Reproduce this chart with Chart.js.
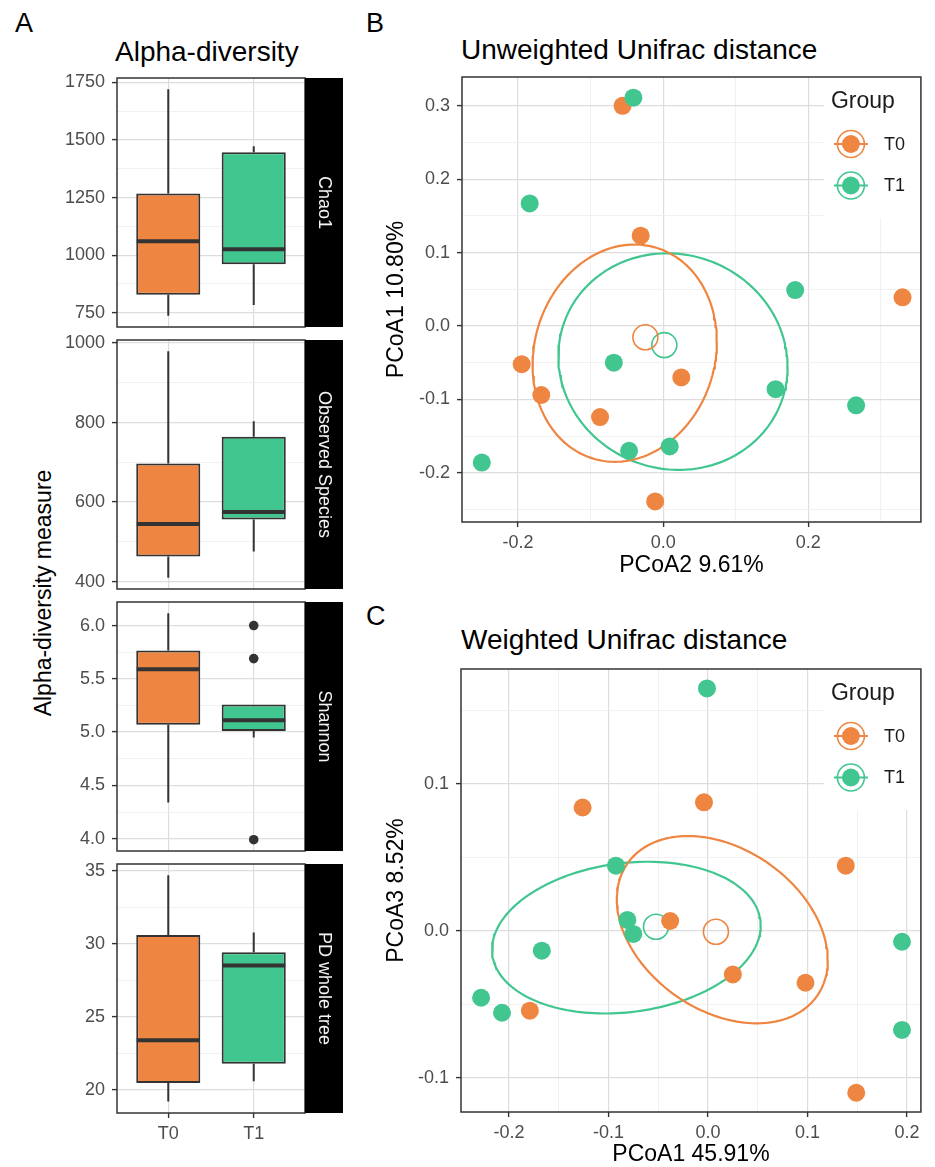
<!DOCTYPE html>
<html>
<head>
<meta charset="utf-8">
<script src="https://cdn.jsdelivr.net/npm/chart.js@4/dist/chart.umd.min.js"></script>
<style>
  html, body { margin:0; padding:0; background:#ffffff; }
  body { position:relative; width:935px; height:1167px; overflow:hidden; font-family:'Liberation Sans', Arial, Helvetica, sans-serif; }
  canvas { position:absolute; }
  .txt { position:absolute; white-space:nowrap; line-height:1; color:#000; }
</style>
</head>
<body>
<div class="txt" style="left:15px; top:10px; font-size:27px;">A</div>
<div class="txt" style="left:115px; top:38px; font-size:28px;">Alpha-diversity</div>
<div class="txt" style="left:366px; top:10px; font-size:27px;">B</div>
<div class="txt" style="left:461px; top:36px; font-size:28px;">Unweighted Unifrac distance</div>
<div class="txt" style="left:366px; top:603px; font-size:27px;">C</div>
<div class="txt" style="left:461px; top:626px; font-size:28px;">Weighted Unifrac distance</div>
<div class="txt" style="left:43px; top:593px; font-size:23px; transform:translate(-50%,-50%) rotate(-90deg);">Alpha-diversity measure</div>

<canvas id="f1" width="345" height="309" style="left:0px; top:58px;"></canvas>
<canvas id="f2" width="345" height="309" style="left:0px; top:320px;"></canvas>
<canvas id="f3" width="345" height="309" style="left:0px; top:582px;"></canvas>
<canvas id="f4" width="345" height="309" style="left:0px; top:844px;"></canvas>
<canvas id="pb" width="575" height="535" style="left:360px; top:55px;"></canvas>
<canvas id="pc" width="575" height="522" style="left:360px; top:645px;"></canvas>

<script>
// ---------------- data ----------------
const groups = ['T0', 'T1'];
const groupPositions = [1, 2];
const facetLabels = ['Chao1', 'Observed Species', 'Shannon', 'PD whole tree'];

// box statistics: [lower whisker, Q1, median, Q3, upper whisker]
const chao1T0 = [737, 828, 1060, 1268, 1720];
const chao1T1 = [784, 960, 1025, 1447, 1473];
const observedT0 = [410, 463, 545, 697, 979];
const observedT1 = [476, 556, 575, 764, 803];
const shannonT0 = [4.34, 5.07, 5.59, 5.765, 6.115];
const shannonT1 = [4.95, 5.01, 5.11, 5.26, 5.26];
const pdT0 = [19.2, 20.48, 23.4, 30.6, 34.7];
const pdT1 = [20.59, 21.8, 28.52, 29.43, 30.78];
const noOutliers = [];
const shannonT1Outliers = [6.0, 5.69, 3.99];

const chao1Ticks = [750, 1000, 1250, 1500, 1750];
const chao1TickLabels = ['750', '1000', '1250', '1500', '1750'];
const observedTicks = [400, 600, 800, 1000];
const observedTickLabels = ['400', '600', '800', '1000'];
const shannonTicks = [4.0, 4.5, 5.0, 5.5, 6.0];
const shannonTickLabels = ['4.0', '4.5', '5.0', '5.5', '6.0'];
const pdTicks = [20, 25, 30, 35];
const pdTickLabels = ['20', '25', '30', '35'];
const chao1Range = [688, 1769];
const observedRange = [381.5, 1007.5];
const shannonRange = [3.884, 6.221];
const pdRange = [18.42, 35.47];
const groupRange = [0.4, 2.6];

// Panel B (unweighted)
const bT0x = [-0.056, -0.031, 0.330, -0.195, 0.025, -0.168, -0.087, -0.011];
const bT0y = [0.300, 0.123, 0.039, -0.052, -0.070, -0.094, -0.124, -0.239];
const bT1x = [-0.041, -0.184, 0.182, -0.068, -0.047, 0.009, -0.250, 0.155, 0.266];
const bT1y = [0.311, 0.167, 0.049, -0.050, -0.170, -0.164, -0.186, -0.086, -0.108];
const bCentroidX = [-0.0245, 0.0016];
const bCentroidY = [-0.0154, -0.026];
// ellipse: [centre x, centre y, sd x, sd y, correlation]
const bEllipseT0 = [-0.053, -0.037, 0.127, 0.148, 0.106];
const bEllipseT1 = [0.0135, -0.0485, 0.158, 0.1475, -0.05];
const bXTicks = [-0.2, 0.0, 0.2];
const bXTickLabels = ['-0.2', '0.0', '0.2'];
const bYTicks = [-0.2, -0.1, 0.0, 0.1, 0.2, 0.3];
const bYTickLabels = ['-0.2', '-0.1', '0.0', '0.1', '0.2', '0.3'];
const bXRange = [-0.2773, 0.3553];
const bYRange = [-0.267, 0.3392];

// Panel C (weighted)
const cT0x = [-0.126, -0.004, 0.1385, -0.038, 0.025, 0.098, -0.179, 0.149];
const cT0y = [0.084, 0.0875, 0.0444, 0.0068, -0.0295, -0.0352, -0.0542, -0.110];
const cT1x = [-0.001, -0.0925, -0.081, -0.075, -0.167, 0.195, -0.228, -0.207, 0.195];
const cT1y = [0.165, 0.0444, 0.0075, -0.002, -0.0134, -0.0073, -0.0454, -0.0556, -0.0673];
const cCentroidX = [0.008, -0.0522];
const cCentroidY = [-0.0005, 0.0029];
const cEllipseT0 = [0.0144, 0.0009, 0.106, 0.0637, -0.326];
const cEllipseT1 = [-0.082, -0.0045, 0.135, 0.0516, 0.158];
const cXTicks = [-0.2, -0.1, 0.0, 0.1, 0.2];
const cXTickLabels = ['-0.2', '-0.1', '0.0', '0.1', '0.2'];
const cYTicks = [-0.1, 0.0, 0.1];
const cYTickLabels = ['-0.1', '0.0', '0.1'];
const cXRange = [-0.2482, 0.2140];
const cYRange = [-0.1231, 0.1782];

// ---------------- styles ----------------
const ORANGE = '#EE8541';
const GREEN = '#41C690';
const DARK = '#333333';
const TICK_TEXT = '#4D4D4D';
const GRID_MAJOR = '#DDDDDD';
const GRID_MINOR = '#EDEDED';
const FONT = "'Liberation Sans', Arial, Helvetica, sans-serif";
const groupColors = [ORANGE, GREEN];

Chart.defaults.font.family = FONT;
Chart.defaults.animation = false;
Chart.defaults.events = [];
Chart.defaults.plugins.legend.display = false;
Chart.defaults.plugins.tooltip.enabled = false;

// ---------------- helpers ----------------
function near(a, b) { return Math.abs(a - b) < 1e-9; }
function isIn(v, list) { return list.some(m => near(m, v)); }
function minorBreaks(major, range) {
  const step = major[1] - major[0];
  const out = [];
  for (let i = -1; i < major.length; i++) {
    const v = +(major[0] + step * (i + 0.5)).toFixed(10);
    if (v >= range[0] && v <= range[1]) out.push(v);
  }
  return out;
}
function zip(xs, ys) { return xs.map((x, i) => ({ x: x, y: ys[i] })); }
function ellipsePoints(p) {
  const [cx, cy, sx, sy, r] = p;
  const k = Math.sqrt(1 - r * r);
  const pts = [];
  for (let i = 0; i <= 180; i++) {
    const t = i / 180 * 2 * Math.PI;
    pts.push({ x: cx + sx * Math.cos(t), y: cy + sy * (r * Math.cos(t) + k * Math.sin(t)) });
  }
  return pts;
}

function numAxis(major, labels, range, cfg) {
  const minor = cfg.noMinor ? [] : minorBreaks(major, range);
  const all = major.concat(minor).sort((a, b) => a - b);
  const showLabels = cfg.showLabels !== false;
  const isMaj = c => c && c.tick && isIn(c.tick.value, major);
  return {
    type: 'linear', position: cfg.position, min: range[0], max: range[1], offset: false,
    afterBuildTicks: s => { s.ticks = all.map(v => ({ value: v })); },
    afterFit: s => { if (cfg.position === 'left') s.width = cfg.size; else s.height = cfg.size; },
    ticks: {
      display: showLabels, autoSkip: false, maxRotation: 0, minRotation: 0,
      padding: cfg.tickPadding, color: TICK_TEXT, font: { size: 18, lineHeight: 1.2 },
      callback: v => { const i = major.findIndex(m => near(m, v)); return i >= 0 ? labels[i] : ''; }
    },
    grid: {
      drawOnChartArea: true, drawTicks: showLabels, tickLength: 5, offset: false,
      color: c => isMaj(c) ? GRID_MAJOR : GRID_MINOR,
      lineWidth: c => isMaj(c) ? 1.2 : 0.8,
      tickColor: c => isMaj(c) ? DARK : 'rgba(0,0,0,0)',
      tickWidth: 1.4
    },
    border: { display: false },
    title: cfg.title ? {
      display: true, text: cfg.title, color: '#000',
      font: { size: 23, lineHeight: 1 }, padding: cfg.titlePadding
    } : { display: false }
  };
}

const borderPlugin = {
  id: 'panelBorder',
  afterDraw(chart) {
    const { ctx, chartArea: a } = chart;
    ctx.save();
    ctx.strokeStyle = DARK; ctx.lineWidth = 1.5;
    ctx.strokeRect(a.left, a.top, a.right - a.left, a.bottom - a.top);
    ctx.restore();
  }
};

function stripPlugin(label) {
  return {
    id: 'strip',
    afterDraw(chart) {
      const { ctx, chartArea: a } = chart;
      ctx.save();
      ctx.fillStyle = '#000';
      ctx.fillRect(a.right, a.top, 38, a.bottom - a.top);
      ctx.translate(a.right + 19, (a.top + a.bottom) / 2);
      ctx.rotate(Math.PI / 2);
      ctx.fillStyle = '#F4F4F4';
      ctx.font = '18px ' + FONT;
      ctx.textAlign = 'center'; ctx.textBaseline = 'middle';
      ctx.fillText(label, 0, 0);
      ctx.restore();
    }
  };
}

function medianPlugin(medians, barIndex) {
  return {
    id: 'medians',
    afterDatasetsDraw(chart) {
      const { ctx } = chart;
      const ys = chart.scales.y;
      const meta = chart.getDatasetMeta(barIndex);
      ctx.save();
      ctx.strokeStyle = DARK; ctx.lineWidth = 4; ctx.lineCap = 'butt';
      meta.data.forEach((bar, i) => {
        const p = bar.getProps(['x', 'width'], true);
        const y = ys.getPixelForValue(medians[i]);
        ctx.beginPath();
        ctx.moveTo(p.x - p.width / 2 + 0.5, y);
        ctx.lineTo(p.x + p.width / 2 - 0.5, y);
        ctx.stroke();
      });
      ctx.restore();
    }
  };
}

function legendPlugin() {
  return {
    id: 'groupLegend',
    afterDraw(chart) {
      const { ctx, chartArea: { right, top } } = chart;
      ctx.save();
      ctx.fillStyle = '#ffffff';
      ctx.fillRect(right - 97, top, 97, 141);
      ctx.fillStyle = '#1A1A1A'; ctx.textAlign = 'left'; ctx.textBaseline = 'middle';
      ctx.font = '23px ' + FONT;
      ctx.fillText('Group', right - 90, top + 25);
      groups.forEach((g, i) => {
        const cy = top + 67 + i * 41.5, cx = right - 70;
        ctx.strokeStyle = groupColors[i];
        ctx.lineWidth = 2;
        ctx.beginPath(); ctx.moveTo(cx - 17, cy); ctx.lineTo(cx + 17, cy); ctx.stroke();
        ctx.lineWidth = 1.6;
        ctx.beginPath(); ctx.arc(cx, cy, 13.5, 0, Math.PI * 2); ctx.stroke();
        ctx.fillStyle = groupColors[i];
        ctx.beginPath(); ctx.arc(cx, cy, 9, 0, Math.PI * 2); ctx.fill();
        ctx.fillStyle = '#1A1A1A'; ctx.font = '18px ' + FONT;
        ctx.fillText(g, right - 37, cy + 1);
      });
      ctx.restore();
    }
  };
}

function whiskerData(t0, t1) {
  const out = [];
  [t0, t1].forEach((s, i) => {
    const x = groupPositions[i];
    out.push({ x: x, y: s[0] }, { x: x, y: s[1] }, { x: x, y: null },
             { x: x, y: s[3] }, { x: x, y: s[4] }, { x: x, y: null });
  });
  return out;
}

function facet(id, stripLabel, t0, t1, outT0, outT1, major, labels, range, isBottom) {
  new Chart(document.getElementById(id), {
    type: 'bar',
    data: {
      datasets: [
        { type: 'scatter', data: outT0.map(v => ({ x: groupPositions[0], y: v })).concat(outT1.map(v => ({ x: groupPositions[1], y: v }))),
          backgroundColor: DARK, borderWidth: 0, pointRadius: 4.8, order: 0 },
        { type: 'bar', data: [{ x: groupPositions[0], y: [t0[1], t0[3]] }, { x: groupPositions[1], y: [t1[1], t1[3]] }],
          backgroundColor: groupColors, borderColor: DARK, borderWidth: 2, borderSkipped: false,
          barPercentage: 0.75, categoryPercentage: 1, order: 1 },
        { type: 'line', data: whiskerData(t0, t1), borderColor: DARK, borderWidth: 2,
          pointRadius: 0, spanGaps: false, fill: false, order: 2 }
      ]
    },
    options: {
      responsive: false, maintainAspectRatio: false,
      layout: { padding: { left: 0, right: 40, top: 20, bottom: 0 } },
      scales: {
        x: numAxis(groupPositions, groups, groupRange, { position: 'bottom', size: 40, tickPadding: 5, showLabels: isBottom, noMinor: true }),
        y: numAxis(major, labels, range, { position: 'left', size: 117, tickPadding: 7 })
      }
    },
    plugins: [medianPlugin([t0[2], t1[2]], 1), borderPlugin, stripPlugin(stripLabel)]
  });
}

facet('f1', facetLabels[0], chao1T0, chao1T1, noOutliers, noOutliers, chao1Ticks, chao1TickLabels, chao1Range, false);
facet('f2', facetLabels[1], observedT0, observedT1, noOutliers, noOutliers, observedTicks, observedTickLabels, observedRange, false);
facet('f3', facetLabels[2], shannonT0, shannonT1, noOutliers, shannonT1Outliers, shannonTicks, shannonTickLabels, shannonRange, false);
facet('f4', facetLabels[3], pdT0, pdT1, noOutliers, noOutliers, pdTicks, pdTickLabels, pdRange, true);

function pcoa(id, d) {
  new Chart(document.getElementById(id), {
    type: 'scatter',
    data: {
      datasets: [
        { data: zip(d.t1x, d.t1y), backgroundColor: GREEN, borderWidth: 0, pointRadius: 9, order: 1 },
        { data: zip(d.t0x, d.t0y), backgroundColor: ORANGE, borderWidth: 0, pointRadius: 9, order: 2 },
        { data: [{ x: d.cx[0], y: d.cy[0] }], backgroundColor: 'rgba(0,0,0,0)', borderColor: ORANGE, borderWidth: 1.6, pointRadius: 12.5, order: 3 },
        { data: [{ x: d.cx[1], y: d.cy[1] }], backgroundColor: 'rgba(0,0,0,0)', borderColor: GREEN, borderWidth: 1.6, pointRadius: 12.5, order: 3 },
        { data: ellipsePoints(d.e0), showLine: true, borderColor: ORANGE, borderWidth: 2.2, pointRadius: 0, fill: false, order: 4 },
        { data: ellipsePoints(d.e1), showLine: true, borderColor: GREEN, borderWidth: 2.2, pointRadius: 0, fill: false, order: 4 }
      ]
    },
    options: {
      responsive: false, maintainAspectRatio: false,
      layout: { padding: { left: 0, right: 3, top: d.padTop, bottom: 0 } },
      scales: {
        x: numAxis(d.xTicks, d.xLabels, d.xRange, { position: 'bottom', size: d.xSize, tickPadding: 5,
             title: d.xTitle, titlePadding: { top: 0, bottom: d.xTitlePad } }),
        y: numAxis(d.yTicks, d.yLabels, d.yRange, { position: 'left', size: d.ySize, tickPadding: 7,
             title: d.yTitle, titlePadding: { top: 25.5, bottom: 0 } })
      }
    },
    plugins: [legendPlugin(), borderPlugin]
  });
}

pcoa('pb', { t0x: bT0x, t0y: bT0y, t1x: bT1x, t1y: bT1y, cx: bCentroidX, cy: bCentroidY,
  e0: bEllipseT0, e1: bEllipseT1, xTicks: bXTicks, xLabels: bXTickLabels, xRange: bXRange,
  yTicks: bYTicks, yLabels: bYTickLabels, yRange: bYRange, xTitle: 'PCoA2 9.61%', yTitle: 'PCoA1 10.80%',
  padTop: 22, xSize: 68, ySize: 102, xTitlePad: 12.5 });

pcoa('pc', { t0x: cT0x, t0y: cT0y, t1x: cT1x, t1y: cT1y, cx: cCentroidX, cy: cCentroidY,
  e0: cEllipseT0, e1: cEllipseT1, xTicks: cXTicks, xLabels: cXTickLabels, xRange: cXRange,
  yTicks: cYTicks, yLabels: cYTickLabels, yRange: cYRange, xTitle: 'PCoA1 45.91%', yTitle: 'PCoA3 8.52%',
  padTop: 24, xSize: 55, ySize: 101, xTitlePad: 0.5 });
</script>
</body>
</html>
